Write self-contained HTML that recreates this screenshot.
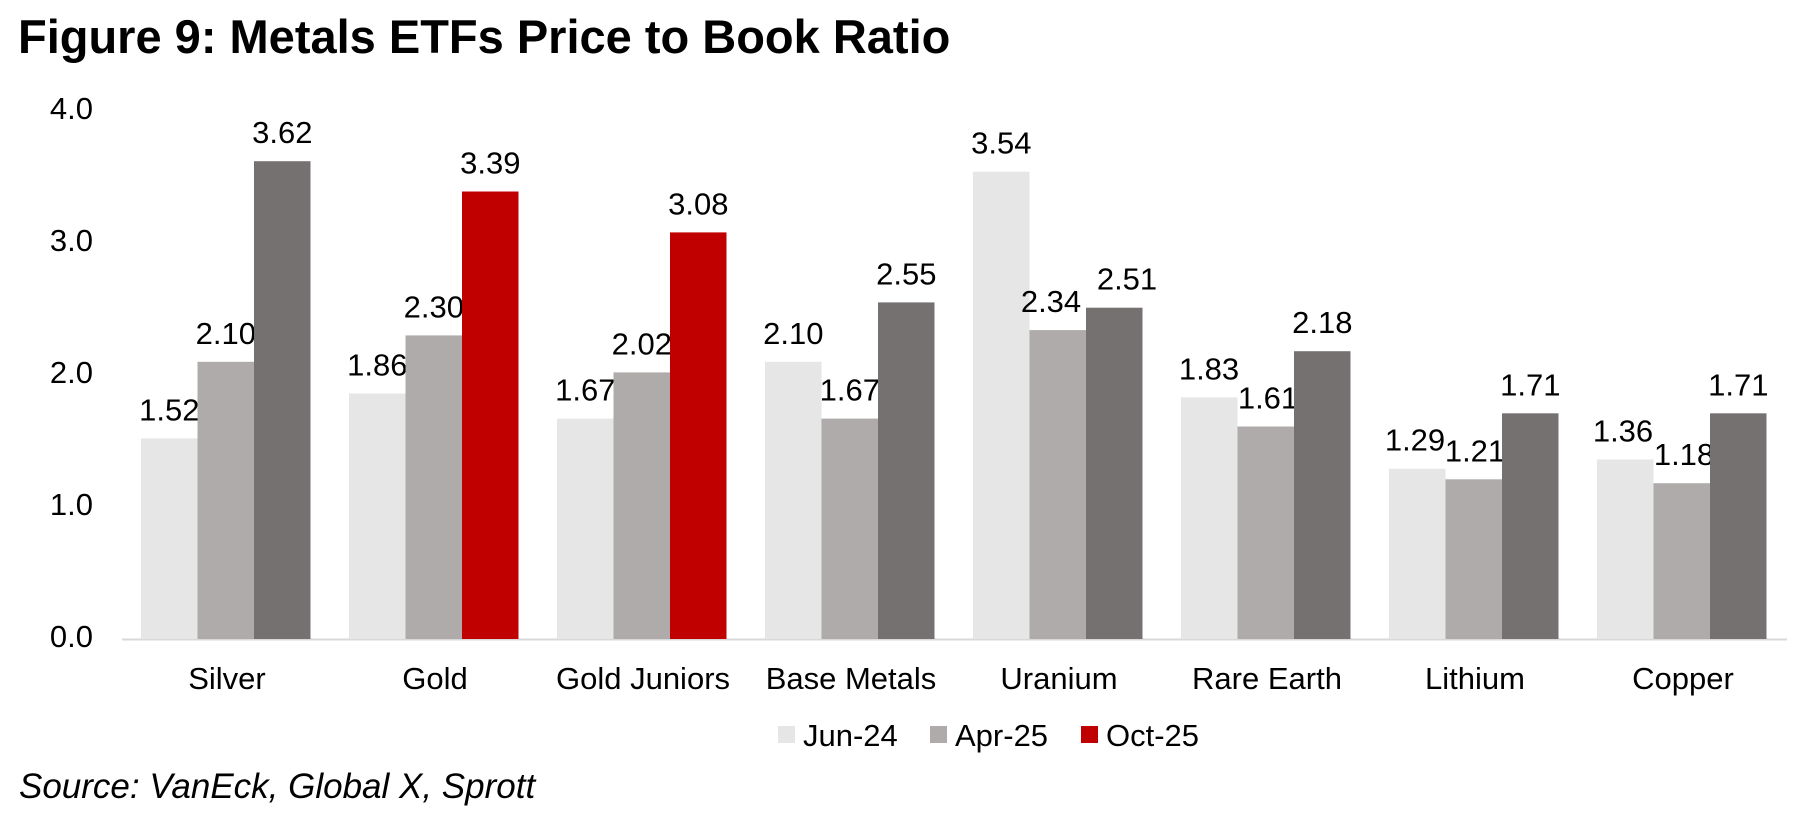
<!DOCTYPE html>
<html><head><meta charset="utf-8"><style>
html,body{margin:0;padding:0;background:#fff;}
svg{display:block;font-family:"Liberation Sans",Arial,sans-serif;}
</style></head><body>
<svg width="1810" height="830" viewBox="0 0 1810 830" xmlns="http://www.w3.org/2000/svg">
<text x="18" y="53" font-size="47" font-weight="bold" fill="#000">Figure 9: Metals ETFs Price to Book Ratio</text>
<g font-size="31" fill="#000" text-anchor="end">
<text x="93" y="119">4.0</text>
<text x="93" y="251">3.0</text>
<text x="93" y="383">2.0</text>
<text x="93" y="515">1.0</text>
<text x="93" y="647">0.0</text>
</g>
<line x1="122" y1="639.5" x2="1787" y2="639.5" stroke="#d9d9d9" stroke-width="2"/>
<g font-size="31" fill="#000" text-anchor="middle">
<text x="227" y="689">Silver</text>
<text x="435" y="689">Gold</text>
<text x="643" y="689">Gold Juniors</text>
<text x="851" y="689">Base Metals</text>
<text x="1059" y="689">Uranium</text>
<text x="1267" y="689">Rare Earth</text>
<text x="1475" y="689">Lithium</text>
<text x="1683" y="689">Copper</text>
</g>
<g font-size="31" fill="#000">
<rect x="778" y="726" width="17" height="17" fill="#e6e6e6"/><text x="803" y="746">Jun-24</text>
<rect x="930" y="726" width="17" height="17" fill="#afabab"/><text x="955" y="746">Apr-25</text>
<rect x="1081" y="726" width="17" height="17" fill="#c00000"/><text x="1106" y="746">Oct-25</text>
</g>
<text x="19" y="798" font-size="35" font-style="italic" fill="#000">Source: VanEck, Global X, Sprott</text>
<g font-size="31" fill="#000" text-anchor="middle">
<rect x="141" y="438.4" width="56.5" height="200.6" fill="#e6e6e6"/><text x="169.3" y="420.4">1.52</text>
<rect x="197.5" y="361.8" width="56.5" height="277.2" fill="#afabab"/><text x="225.8" y="343.8">2.10</text>
<rect x="254" y="161.2" width="56.5" height="477.8" fill="#767171"/><text x="282.3" y="143.2">3.62</text>

<rect x="349" y="393.5" width="56.5" height="245.5" fill="#e6e6e6"/><text x="377.3" y="375.5">1.86</text>
<rect x="405.5" y="335.4" width="56.5" height="303.6" fill="#afabab"/><text x="433.8" y="317.4">2.30</text>
<rect x="462" y="191.5" width="56.5" height="447.5" fill="#c00000"/><text x="490.3" y="173.5">3.39</text>

<rect x="557" y="418.6" width="56.5" height="220.4" fill="#e6e6e6"/><text x="585.3" y="400.6">1.67</text>
<rect x="613.5" y="372.4" width="56.5" height="266.6" fill="#afabab"/><text x="641.8" y="354.4">2.02</text>
<rect x="670" y="232.4" width="56.5" height="406.6" fill="#c00000"/><text x="698.3" y="214.4">3.08</text>

<rect x="765" y="361.8" width="56.5" height="277.2" fill="#e6e6e6"/><text x="793.3" y="343.8">2.10</text>
<rect x="821.5" y="418.6" width="56.5" height="220.4" fill="#afabab"/><text x="849.8" y="400.6">1.67</text>
<rect x="878" y="302.4" width="56.5" height="336.6" fill="#767171"/><text x="906.3" y="284.4">2.55</text>

<rect x="973" y="171.7" width="56.5" height="467.3" fill="#e6e6e6"/><text x="1001.3" y="153.7">3.54</text>
<rect x="1029.5" y="330.1" width="56.5" height="308.9" fill="#afabab"/><text x="1051" y="312.1">2.34</text>
<rect x="1086" y="307.7" width="56.5" height="331.3" fill="#767171"/><text x="1127" y="289.7">2.51</text>

<rect x="1181" y="397.4" width="56.5" height="241.6" fill="#e6e6e6"/><text x="1209" y="379.4">1.83</text>
<rect x="1237.5" y="426.5" width="56.5" height="212.5" fill="#afabab"/><text x="1268" y="408.5">1.61</text>
<rect x="1294" y="351.2" width="56.5" height="287.8" fill="#767171"/><text x="1322.3" y="333.2">2.18</text>

<rect x="1389" y="468.7" width="56.5" height="170.3" fill="#e6e6e6"/><text x="1415" y="450.7">1.29</text>
<rect x="1445.5" y="479.3" width="56.5" height="159.7" fill="#afabab"/><text x="1475" y="461.3">1.21</text>
<rect x="1502" y="413.3" width="56.5" height="225.7" fill="#767171"/><text x="1530.3" y="395.3">1.71</text>

<rect x="1597" y="459.5" width="56.5" height="179.5" fill="#e6e6e6"/><text x="1623" y="441.5">1.36</text>
<rect x="1653.5" y="483.2" width="56.5" height="155.8" fill="#afabab"/><text x="1684" y="465.2">1.18</text>
<rect x="1710" y="413.3" width="56.5" height="225.7" fill="#767171"/><text x="1738.3" y="395.3">1.71</text>
</g>
</svg>
</body></html>
